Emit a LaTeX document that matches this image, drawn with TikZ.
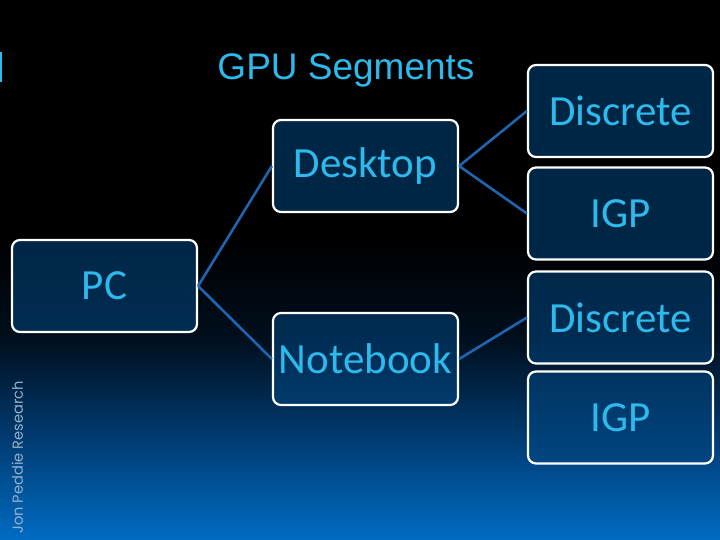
\documentclass[tikz,border=0pt]{standalone}
\usepackage{fontspec}
\setmainfont{Carlito}
\newfontfamily\titlefont{Liberation Sans}
\newfontfamily\creditfont{Poppins}

\definecolor{labelblue}{RGB}{45,185,235}
\definecolor{linkblue}{RGB}{30,100,175}
\definecolor{boxnavy}{RGB}{0,70,128}
\definecolor{bgmid}{RGB}{0,15,30}
\definecolor{bglow}{RGB}{0,60,115}
\definecolor{bgfloor}{RGB}{0,108,195}
\definecolor{creditgrey}{RGB}{150,175,200}

\tikzset{
  segbox/.style={draw=white, line width=2.2pt, rounded corners=8pt,
    fill=boxnavy, fill opacity=0.55, text opacity=1,
    minimum width=185pt, minimum height=92pt, inner sep=0pt,
    text=labelblue, font=\fontsize{43}{46}\selectfont},
  link/.style={draw=linkblue, line width=2.6pt}
}

\begin{document}
\begin{tikzpicture}[x=1pt,y=-1pt]
  \useasboundingbox (0,0) rectangle (720,540);
  \fill[black] (0,0) rectangle (720,241);
  \shade[top color=black, bottom color=bgmid] (0,240) rectangle (720,341);
  \shade[top color=bgmid, bottom color=bglow] (0,340) rectangle (720,441);
  \shade[top color=bglow, bottom color=bgfloor] (0,440) rectangle (720,540);

  \fill[labelblue] (0,52) rectangle (2,82);
  \node[anchor=base, text=labelblue, font=\titlefont\fontsize{37}{40}\selectfont] (title) at (346,80) {GPU Segments};
  \node[anchor=base west, rotate=90, text=creditgrey, font=\creditfont\fontsize{14.6}{16}\selectfont] (credit) at (23,537) {Jon Peddie Research};

  \node[segbox] (pc) at (104.5,286) {PC};
  \node[segbox] (desktop) at (365.5,166) {Desktop};
  \node[segbox] (notebook) at (365.5,359) {Notebook};
  \node[segbox] (discreteA) at (620.5,111) {Discrete};
  \node[segbox] (igpA) at (620.5,213.5) {IGP};
  \node[segbox] (discreteB) at (620.5,317.5) {Discrete};
  \node[segbox] (igpB) at (620.5,417.5) {IGP};

  \draw[link] (pc.east) -- (desktop.west);
  \draw[link] (pc.east) -- (notebook.west);
  \draw[link] (desktop.east) -- (discreteA.west);
  \draw[link] (desktop.east) -- (igpA.west);
  \draw[link] (notebook.east) -- (discreteB.west);
\end{tikzpicture}
\end{document}
